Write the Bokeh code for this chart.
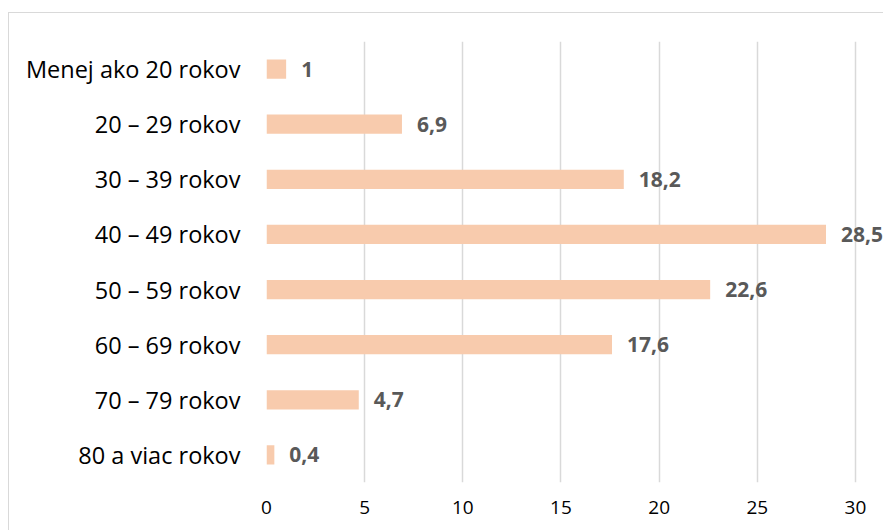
from bokeh.plotting import figure
from bokeh.models import FactorRange, Range1d, FixedTicker, ColumnDataSource, LabelSet
from bokeh.embed import file_html
from bokeh.resources import INLINE
from bokeh.core.properties import value

categories = ["Menej ako 20 rokov", "20 – 29 rokov", "30 – 39 rokov", "40 – 49 rokov",
              "50 – 59 rokov", "60 – 69 rokov", "70 – 79 rokov", "80 a viac rokov"]
values = [1, 6.9, 18.2, 28.5, 22.6, 17.6, 4.7, 0.4]
value_labels = ["1", "6,9", "18,2", "28,5", "22,6", "17,6", "4,7", "0,4"]
x_ticks = [0, 5, 10, 15, 20, 25, 30]

source = ColumnDataSource(data=dict(cat=categories, val=values, lab=value_labels))

p = figure(width=875, height=518, output_backend="svg", toolbar_location=None,
           y_range=FactorRange(*list(reversed(categories)), range_padding=0),
           x_range=Range1d(0, 31.48),
           min_border_left=257, min_border_right=0, min_border_top=28, min_border_bottom=49,
           styles={"margin-left": "9px", "margin-top": "13px",
                   "box-shadow": "-1px -1px 0 #d9d9d9"})

p.hbar(y="cat", right="val", left=0, height=0.35, source=source,
       fill_color="#F8CBAD", line_color=None)

labels = LabelSet(x="val", y="cat", text="lab", source=source, x_offset=15,
                  text_baseline="middle", text_align="left",
                  text_font=value("Open Sans"), text_font_style="bold",
                  text_font_size="21px", text_color="#595959")
p.add_layout(labels)

p.outline_line_color = None
p.ygrid.grid_line_color = None
p.xgrid.grid_line_color = "#D9D9D9"
p.xgrid.grid_line_width = 1.5
p.xgrid.ticker = FixedTicker(ticks=x_ticks)

p.xaxis.ticker = FixedTicker(ticks=x_ticks)
p.xaxis.axis_line_color = None
p.xaxis.major_tick_line_color = None
p.xaxis.minor_tick_line_color = None
p.xaxis.major_tick_out = 0
p.xaxis.major_label_standoff = 18
p.xaxis.major_label_text_font = "Open Sans"
p.xaxis.major_label_text_font_size = "19px"
p.xaxis.major_label_text_color = "#000000"

p.yaxis.axis_line_color = None
p.yaxis.major_tick_line_color = None
p.yaxis.minor_tick_line_color = None
p.yaxis.major_tick_out = 0
p.yaxis.major_label_standoff = 26
p.yaxis.major_label_text_font = "Open Sans"
p.yaxis.major_label_text_font_size = "23.5px"
p.yaxis.major_label_text_color = "#000000"

open("out.html", "w").write(file_html(p, INLINE))
